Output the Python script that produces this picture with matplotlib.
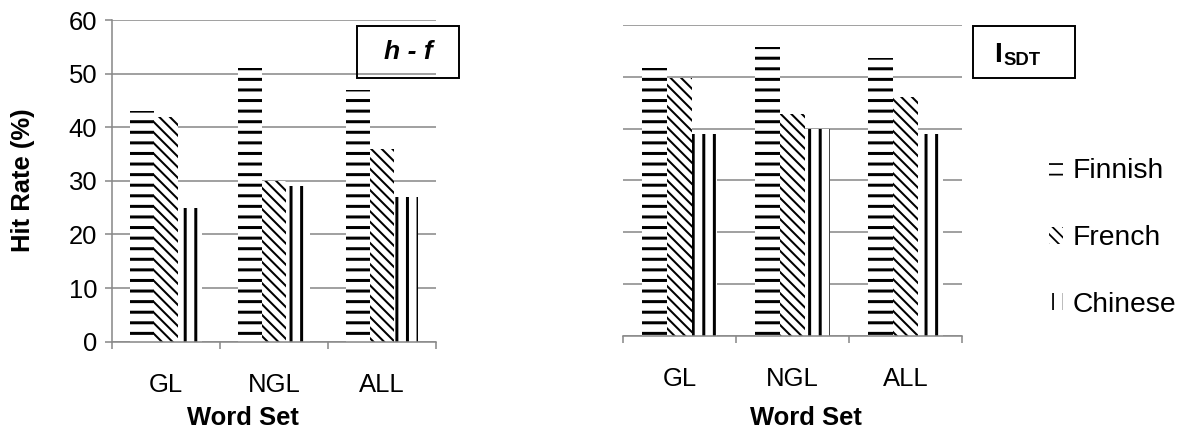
import matplotlib

matplotlib.use("Agg")

import matplotlib.pyplot as plt  # noqa: E402
from matplotlib.patches import Rectangle  # noqa: E402

# values
categories = ["GL", "NGL", "ALL"]
languages = ["Finnish", "French", "Chinese"]
hit_rate_finnish = [43, 51, 47]
hit_rate_french = [42, 30, 36]
hit_rate_chinese = [25, 29, 27]
isdt_finnish = [51.6, 55.7, 53.6]
isdt_french = [49.8, 42.9, 46.0]
isdt_chinese = [39.0, 40.0, 39.0]
y_ticks = [0, 10, 20, 30, 40, 50, 60]

W, H = 1189, 431
DPI = 127  # chosen so that the "--" / "||" hatches repeat every ~10.6 px
GREY = "#8a8a8a"
HATCHES = ["--", "\\\\\\\\", "||"]
HATCH_LW = [1.7, 1.15, 1.7]
BAR_W = 0.222

plt.rcParams["font.family"] = ["Liberation Sans", "DejaVu Sans"]


def fx(px):
    return px / W


def fy(px):
    return 1 - px / H


def draw_bars(ax, series):
    positions = range(len(categories))
    for i, values in enumerate(series):
        with plt.rc_context({"hatch.linewidth": HATCH_LW[i]}):
            bars = ax.bar([p + (i - 1) * BAR_W for p in positions], values, width=BAR_W,
                          color="white", edgecolor="black", linewidth=0,
                          hatch=HATCHES[i], label=languages[i], zorder=2)
        for bar in bars:
            if hasattr(bar, "set_hatch_linewidth"):
                bar.set_hatch_linewidth(HATCH_LW[i])


def style_axes(ax, show_y):
    ax.set_xlim(-0.5, len(categories) - 0.5)
    ax.set_ylim(0, 60)
    ax.set_yticks(y_ticks)
    ax.set_axisbelow(True)
    ax.grid(axis="y", color=GREY, linewidth=0.9)
    for side in ("top", "right"):
        ax.spines[side].set_visible(False)
    ax.spines["bottom"].set_color(GREY)
    ax.spines["bottom"].set_linewidth(0.9)
    if show_y:
        ax.spines["left"].set_color(GREY)
        ax.spines["left"].set_linewidth(0.9)
        ax.tick_params(axis="y", direction="out", length=4.2, width=0.9, color=GREY,
                       pad=4, labelsize=14.5)
    else:
        ax.spines["left"].set_visible(False)
        ax.tick_params(axis="y", length=0, labelleft=False)
    # boundary ticks below the axis, category names centred between them
    ax.set_xticks([k - 0.5 for k in range(len(categories) + 1)])
    ax.set_xticklabels([])
    ax.tick_params(axis="x", which="major", direction="out", length=4.2, width=0.9, color=GREY)
    ax.set_xticks(range(len(categories)), minor=True)
    ax.set_xticklabels(categories, minor=True)
    ax.tick_params(axis="x", which="minor", length=0, pad=18, labelsize=14.5)


fig = plt.figure(figsize=(W / DPI, H / DPI), dpi=DPI)

ax_left = fig.add_axes([fx(111.7), fy(341.7), fx(436) - fx(111.7), fy(20) - fy(341.7)])
draw_bars(ax_left, [hit_rate_finnish, hit_rate_french, hit_rate_chinese])
style_axes(ax_left, True)

ax_right = fig.add_axes([fx(623.3), fy(335.7), fx(962) - fx(623.3), fy(25) - fy(335.7)])
draw_bars(ax_right, [isdt_finnish, isdt_french, isdt_chinese])
style_axes(ax_right, False)

fig.text(fx(23), fy(180), "Hit Rate (%)", rotation=90, ha="center", va="center",
         fontsize=14.5, fontweight="bold")
fig.text(fx(243), fy(418), "Word Set", ha="center", va="center", fontsize=14.5, fontweight="bold")
fig.text(fx(806), fy(418), "Word Set", ha="center", va="center", fontsize=14.5, fontweight="bold")

# boxed panel labels
fig.add_artist(Rectangle((fx(357.3), fy(77.7)), fx(459.3) - fx(357.3), fy(26) - fy(77.7),
                         transform=fig.transFigure, fill=False, edgecolor="black", linewidth=1.1))
fig.text(fx(408), fy(52), "h - f", ha="center", va="center", fontsize=15,
         fontweight="bold", fontstyle="italic")
fig.add_artist(Rectangle((fx(972.7), fy(78.3)), fx(1075) - fx(972.7), fy(25.7) - fy(78.3),
                         transform=fig.transFigure, fill=False, edgecolor="black", linewidth=1.1))
fig.text(fx(994), fy(61.5), "I", ha="left", va="baseline", fontsize=16, fontweight="bold")
fig.text(fx(1003), fy(65), "SDT", ha="left", va="baseline", fontsize=10.5, fontweight="bold")

ax_right.legend(loc="center left", bbox_to_anchor=(fx(1049), fy(238)),
                bbox_transform=fig.transFigure, frameon=False, fontsize=16,
                handlelength=0.5, handleheight=0.55, handletextpad=0.35,
                labelspacing=1.45, borderpad=0, borderaxespad=0)

fig.savefig("out.png", dpi=DPI)
